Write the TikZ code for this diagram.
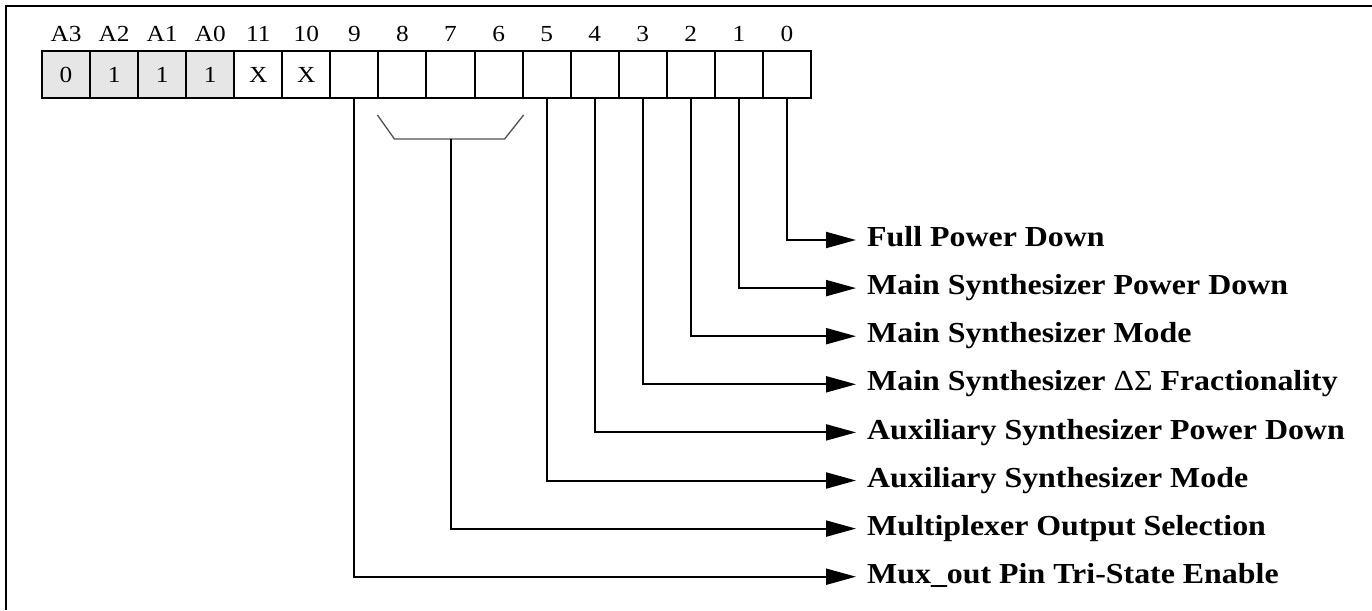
\documentclass[tikz,border=0pt]{standalone}
\usepackage{fontspec}
\setmainfont{Liberation Serif}
\newfontfamily\diagfont{Liberation Serif}[FakeStretch=1.1]
\usepackage{xcolor}
\usepackage{tikz}
\usetikzlibrary{arrows.meta,positioning,calc}
\definecolor{addrgray}{RGB}{230,230,230}
\definecolor{bracketgray}{RGB}{80,80,80}

\begin{document}
\begin{tikzpicture}[x=1pt,y=-1pt,
    cell/.style={draw,line width=2pt,minimum width=48.06pt,minimum height=47pt,inner sep=0pt,anchor=north west,font=\diagfont\fontsize{23}{25}\selectfont},
    bitlbl/.style={font=\diagfont\fontsize{23}{25}\selectfont},
    field/.style={anchor=west,inner xsep=11pt,inner ysep=0pt,text height=20pt,text depth=6.8pt,font=\diagfont\bfseries\fontsize{29}{33}\selectfont},
    wire/.style={line width=2pt,-{Triangle[length=30pt,width=16pt]}}]
    \useasboundingbox (0,0) rectangle (1372,610);
    \draw[line width=2.5pt] (6,610) -- (6,6) -- (1372,6);
    \foreach \lbl/\val [count=\i from 0] in {A3/0,A2/1,A1/1,A0/1} {
        \node[cell,fill=addrgray] (cell-\lbl) at ({41+48.06*\i},50) {\val};
        \node[bitlbl,above=5pt of cell-\lbl] (lbl-\lbl) {\lbl};
    }
    \foreach \lbl/\val [count=\i from 4] in {11/X,10/X,9/,8/,7/,6/,5/,4/,3/,2/,1/,0/} {
        \node[cell] (cell-\lbl) at ({41+48.06*\i},50) {\val};
        \node[bitlbl,above=5pt of cell-\lbl] (lbl-\lbl) {\lbl};
    }
    \draw[bracketgray,line width=1.3pt] ($(cell-8.south west)+(0,16)$) -- ($(cell-8.south west)+(17,40)$) -- ($(cell-6.south east)+(-19,40)$) -- ($(cell-6.south east)+(0,16)$);
    \coordinate (mux) at ($(cell-7.south)+(0,40)$);
    \foreach \bit/\txt [count=\k from 0] in {0/Full Power Down,1/Main Synthesizer Power Down,2/Main Synthesizer Mode,3/Main Synthesizer {\mdseries ΔΣ} Fractionality,4/Auxiliary Synthesizer Power Down,5/Auxiliary Synthesizer Mode,7/Multiplexer Output Selection,9/Mux\_out Pin Tri-State Enable}
        \node[field] (out-\bit) at (856,{240+48.1*\k}) {\txt};
    \draw[wire] (cell-0.south) |- (out-0.west);
    \draw[wire] (cell-1.south) |- (out-1.west);
    \draw[wire] (cell-2.south) |- (out-2.west);
    \draw[wire] (cell-3.south) |- (out-3.west);
    \draw[wire] (cell-4.south) |- (out-4.west);
    \draw[wire] (cell-5.south) |- (out-5.west);
    \draw[wire] (mux) |- (out-7.west);
    \draw[wire] (cell-9.south) |- (out-9.west);
\end{tikzpicture}
\end{document}
